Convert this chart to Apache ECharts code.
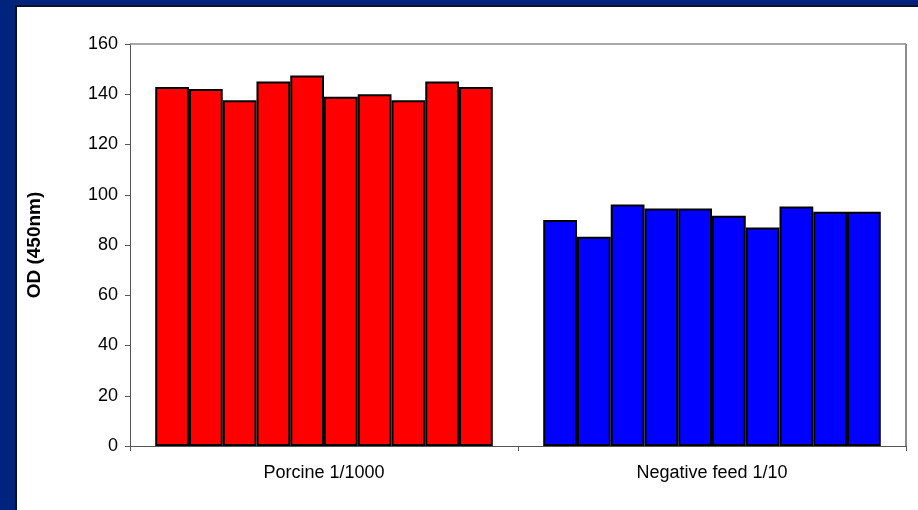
<!DOCTYPE html>
<html>
<head>
<meta charset="utf-8">
<script src="https://cdn.jsdelivr.net/npm/echarts@6/dist/echarts.min.js"></script>
<style>
  html, body { margin: 0; padding: 0; background: #00247d; }
  #chart { width: 918px; height: 510px; }
</style>
</head>
<body>
<div id="chart"></div>
<script>
const categories = ['Porcine 1/1000', 'Negative feed 1/10'];
const porcineValues = [142.9, 142.1, 137.6, 145.1, 147.5, 139.0, 140.0, 137.6, 145.1, 142.9];
const negativeValues = [90.0, 83.3, 96.1, 94.5, 94.5, 91.6, 87.0, 95.3, 93.2, 93.2];
const yTicks = [0, 20, 40, 60, 80, 100, 120, 140, 160];
const yAxisTitle = 'OD (450nm)';
const categoryColors = ['#ff0000', '#0000ff'];

const chart = echarts.init(document.getElementById('chart'), null, { renderer: 'canvas' });

const series = porcineValues.map((v, i) => ({
  name: 'Replicate ' + (i + 1),
  type: 'bar',
  barGap: '0%',
  barCategoryGap: '13%',
  data: [
    { value: porcineValues[i], itemStyle: { color: categoryColors[0] } },
    { value: negativeValues[i], itemStyle: { color: categoryColors[1] } }
  ],
  itemStyle: { borderColor: '#000', borderWidth: 2 },
  emphasis: { disabled: true },
  animation: false
}));

const fontFamily = '"Liberation Sans", Arial, sans-serif';

chart.setOption({
  backgroundColor: '#00247d',
  animation: false,
  graphic: [
    { type: 'rect', z: -10, shape: { x: 15, y: 5, width: 910, height: 510 }, style: { fill: '#0a0f2a' } },
    { type: 'rect', z: -9, shape: { x: 17, y: 7, width: 910, height: 510 }, style: { fill: '#ffffff' } },
    { type: 'line', z: 5, shape: { x1: 130, y1: 44, x2: 906, y2: 44 }, style: { stroke: '#8c8c8c', lineWidth: 1.5 } },
    { type: 'line', z: 5, shape: { x1: 906, y1: 44, x2: 906, y2: 446 }, style: { stroke: '#8c8c8c', lineWidth: 2 } }
  ],
  grid: { left: 130, right: 12, top: 44, bottom: 64, containLabel: false },
  xAxis: {
    type: 'category',
    data: categories,
    axisLine: { show: true, lineStyle: { color: '#555', width: 1 } },
    axisTick: { show: true, length: 5, lineStyle: { color: '#555' } },
    axisLabel: { color: '#000', fontFamily: fontFamily, fontSize: 18, margin: 18 },
    splitLine: { show: false }
  },
  yAxis: {
    type: 'value',
    min: yTicks[0],
    max: yTicks[yTicks.length - 1],
    interval: 20,
    name: yAxisTitle,
    nameLocation: 'middle',
    nameRotate: 90,
    nameGap: 86,
    nameTextStyle: { color: '#000', fontFamily: fontFamily, fontSize: 19, fontWeight: 'bold' },
    axisLine: { show: true, lineStyle: { color: '#555', width: 1 } },
    axisTick: { show: true, length: 5, inside: false, lineStyle: { color: '#555' } },
    axisLabel: { color: '#000', fontFamily: fontFamily, fontSize: 18, margin: 12 },
    splitLine: { show: false }
  },
  series: series
});
</script>
</body>
</html>
